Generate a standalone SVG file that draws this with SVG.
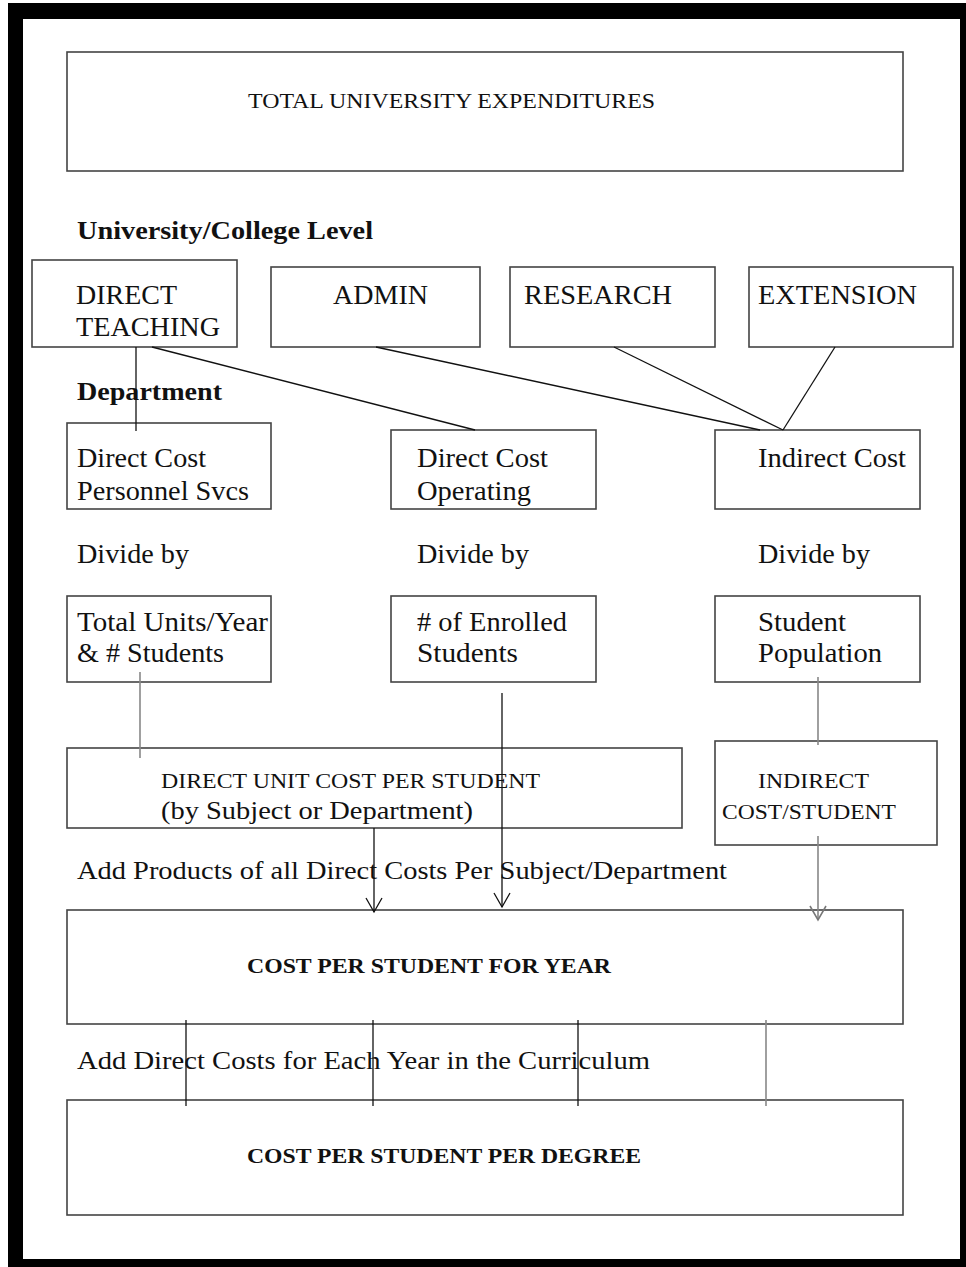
<svg xmlns="http://www.w3.org/2000/svg" width="966" height="1267" viewBox="0 0 966 1267">
<style>
.box{fill:#fff;stroke:#444;stroke-width:1.6}
.t{font-family:"Liberation Serif","DejaVu Serif","Times New Roman",serif;fill:#111}
.b{font-weight:bold}
.ln{stroke:#111;stroke-width:1.3;fill:none}
.lg{stroke:#888;stroke-width:1.6;fill:none}
</style>
<defs>
<marker id="v" markerWidth="20" markerHeight="20" refX="18" refY="10" orient="auto" markerUnits="userSpaceOnUse" viewBox="0 0 20 20">
<path d="M4,2 L18,10 L4,18" fill="none" stroke="#111" stroke-width="1.3"/>
</marker>
<marker id="vg" markerWidth="20" markerHeight="20" refX="18" refY="10" orient="auto" markerUnits="userSpaceOnUse" viewBox="0 0 20 20">
<path d="M4,2 L18,10 L4,18" fill="none" stroke="#777" stroke-width="1.6"/>
</marker>
</defs>
<rect x="0" y="0" width="966" height="1267" fill="#fff"/>
<rect x="8" y="3" width="958" height="1264" fill="#000"/>
<rect x="23" y="19" width="937" height="1240" fill="#fff"/>

<text class="t b" x="77" y="239" font-size="25" textLength="296" lengthAdjust="spacingAndGlyphs">University/College Level</text>
<text class="t b" x="77" y="400" font-size="25" textLength="145" lengthAdjust="spacingAndGlyphs">Department</text>
<text class="t" x="77" y="563" font-size="27" textLength="112" lengthAdjust="spacingAndGlyphs">Divide by</text>
<text class="t" x="417" y="563" font-size="27" textLength="112" lengthAdjust="spacingAndGlyphs">Divide by</text>
<text class="t" x="758" y="563" font-size="27" textLength="112" lengthAdjust="spacingAndGlyphs">Divide by</text>
<text class="t" x="77" y="879" font-size="26" textLength="650" lengthAdjust="spacingAndGlyphs">Add Products of all Direct Costs Per Subject/Department</text>
<text class="t" x="77" y="1069" font-size="26" textLength="573" lengthAdjust="spacingAndGlyphs">Add Direct Costs for Each Year in the Curriculum</text>

<g id="total">
<rect class="box" x="67" y="52" width="836" height="119"/>
<text class="t" x="248" y="108" font-size="22" textLength="407" lengthAdjust="spacingAndGlyphs">TOTAL UNIVERSITY EXPENDITURES</text>
</g>
<g id="direct-teaching">
<rect class="box" x="32" y="260" width="205" height="87"/>
<text class="t" x="76" y="304" font-size="27" textLength="101" lengthAdjust="spacingAndGlyphs">DIRECT</text>
<text class="t" x="76" y="336" font-size="27" textLength="144" lengthAdjust="spacingAndGlyphs">TEACHING</text>
</g>
<g id="admin">
<rect class="box" x="271" y="267" width="209" height="80"/>
<text class="t" x="333" y="304" font-size="27" textLength="95" lengthAdjust="spacingAndGlyphs">ADMIN</text>
</g>
<g id="research">
<rect class="box" x="510" y="267" width="205" height="80"/>
<text class="t" x="524" y="304" font-size="27" textLength="148" lengthAdjust="spacingAndGlyphs">RESEARCH</text>
</g>
<g id="extension">
<rect class="box" x="749" y="267" width="204" height="80"/>
<text class="t" x="758" y="304" font-size="27" textLength="159" lengthAdjust="spacingAndGlyphs">EXTENSION</text>
</g>
<g id="dc-personnel">
<rect class="box" x="67" y="423" width="204" height="86"/>
<text class="t" x="77" y="467" font-size="27" textLength="129" lengthAdjust="spacingAndGlyphs">Direct Cost</text>
<text class="t" x="77" y="500" font-size="27" textLength="172" lengthAdjust="spacingAndGlyphs">Personnel Svcs</text>
</g>
<g id="dc-operating">
<rect class="box" x="391" y="430" width="205" height="79"/>
<text class="t" x="417" y="467" font-size="27" textLength="131" lengthAdjust="spacingAndGlyphs">Direct Cost</text>
<text class="t" x="417" y="500" font-size="27" textLength="114" lengthAdjust="spacingAndGlyphs">Operating</text>
</g>
<g id="indirect-cost">
<rect class="box" x="715" y="430" width="205" height="79"/>
<text class="t" x="758" y="467" font-size="27" textLength="148" lengthAdjust="spacingAndGlyphs">Indirect Cost</text>
</g>
<g id="units-students">
<rect class="box" x="67" y="596" width="204" height="86"/>
<text class="t" x="77" y="631" font-size="27" textLength="191" lengthAdjust="spacingAndGlyphs">Total Units/Year</text>
<text class="t" x="77" y="662" font-size="27" textLength="147" lengthAdjust="spacingAndGlyphs">&amp; # Students</text>
</g>
<g id="enrolled">
<rect class="box" x="391" y="596" width="205" height="86"/>
<text class="t" x="417" y="631" font-size="27" textLength="150" lengthAdjust="spacingAndGlyphs"># of Enrolled</text>
<text class="t" x="417" y="662" font-size="27" textLength="101" lengthAdjust="spacingAndGlyphs">Students</text>
</g>
<g id="population">
<rect class="box" x="715" y="596" width="205" height="86"/>
<text class="t" x="758" y="631" font-size="27" textLength="88" lengthAdjust="spacingAndGlyphs">Student</text>
<text class="t" x="758" y="662" font-size="27" textLength="124" lengthAdjust="spacingAndGlyphs">Population</text>
</g>
<g id="direct-unit">
<rect class="box" x="67" y="748" width="615" height="80"/>
<text class="t" x="161" y="788" font-size="22" textLength="379" lengthAdjust="spacingAndGlyphs">DIRECT UNIT COST PER STUDENT</text>
<text class="t" x="161" y="819" font-size="26" textLength="312" lengthAdjust="spacingAndGlyphs">(by Subject or Department)</text>
</g>
<g id="indirect-student">
<rect class="box" x="715" y="741" width="222" height="104"/>
<text class="t" x="758" y="788" font-size="22" textLength="111" lengthAdjust="spacingAndGlyphs">INDIRECT</text>
<text class="t" x="722" y="819" font-size="22" textLength="174" lengthAdjust="spacingAndGlyphs">COST/STUDENT</text>
</g>
<g id="year">
<rect class="box" x="67" y="910" width="836" height="114"/>
<text class="t b" x="247" y="973" font-size="21" textLength="364" lengthAdjust="spacingAndGlyphs">COST PER STUDENT FOR YEAR</text>
</g>
<g id="degree">
<rect class="box" x="67" y="1100" width="836" height="115"/>
<text class="t b" x="247" y="1163" font-size="21" textLength="394" lengthAdjust="spacingAndGlyphs">COST PER STUDENT PER DEGREE</text>
</g>

<g id="connectors">
<line class="ln" x1="136" y1="347" x2="136" y2="431"/>
<line class="ln" x1="152" y1="347" x2="475" y2="430"/>
<line class="ln" x1="376" y1="347" x2="760" y2="430"/>
<line class="ln" x1="614" y1="347" x2="783" y2="430"/>
<line class="ln" x1="835" y1="347" x2="783" y2="430"/>
<line class="lg" x1="140" y1="672" x2="140" y2="758"/>
<line class="ln" x1="502" y1="693" x2="502" y2="907" marker-end="url(#v)"/>
<line class="lg" x1="818" y1="677" x2="818" y2="745"/>
<line class="ln" x1="374" y1="828" x2="374" y2="912" marker-end="url(#v)"/>
<line class="lg" x1="818" y1="836" x2="818" y2="920" marker-end="url(#vg)"/>
<line class="ln" x1="186" y1="1020" x2="186" y2="1106"/>
<line class="ln" x1="373" y1="1020" x2="373" y2="1106"/>
<line class="ln" x1="578" y1="1020" x2="578" y2="1106"/>
<line class="lg" x1="766" y1="1020" x2="766" y2="1106"/>
</g>
</svg>
